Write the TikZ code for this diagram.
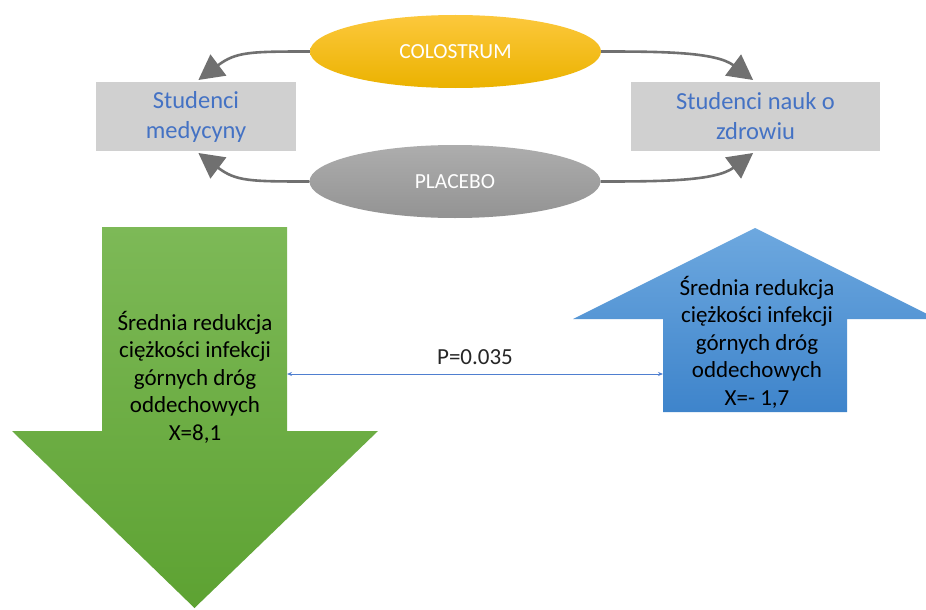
\documentclass[tikz,border=0pt]{standalone}
\usepackage{fontspec}
\setmainfont{Carlito}
\usetikzlibrary{arrows.meta,shapes.geometric}
\definecolor{boxgray}{HTML}{D0D0D0}
\definecolor{txtblue}{HTML}{4472C4}
\definecolor{colTop}{HTML}{FCC83C}
\definecolor{colBot}{HTML}{EBB200}
\definecolor{plaTop}{HTML}{ADADAD}
\definecolor{plaBot}{HTML}{939393}
\definecolor{grnTop}{HTML}{7DB957}
\definecolor{grnBot}{HTML}{5DA232}
\definecolor{bluTop}{HTML}{6DA8DF}
\definecolor{bluBot}{HTML}{3E84CB}
\definecolor{arcgray}{HTML}{707070}
\definecolor{plinecol}{HTML}{4F7FD0}
\begin{document}
\begin{tikzpicture}[x=1pt,y=-1pt,
  stud/.style={rectangle, fill=boxgray, text=txtblue, align=center, inner sep=0pt,
    font=\fontsize{24.5}{30}\selectfont},
  ell/.style={ellipse, inner sep=0pt, minimum width=291pt, minimum height=73pt,
    text=white, font=\fontsize{21.5}{25}\selectfont},
  curv/.style={draw=arcgray, line width=2.6pt, shorten >=3pt,
    -{Triangle[length=25pt,width=26pt]}},
  arrtext/.style={align=center, text=black, inner sep=0pt,
    font=\fontsize{23}{27.5}\selectfont},
  pline/.style={draw=plinecol, line width=0.9pt,
    {Stealth[length=5pt,width=4pt]}-{Stealth[length=5pt,width=4pt]}}
]
\clip (0,0) rectangle (926,610);
\fill[white] (0,0) rectangle (926,610);

% boxes
\node[stud, minimum width=200pt, minimum height=69pt] (lbox) at (196,116.5) {Studenci\\medycyny};
\node[stud, minimum width=249pt, minimum height=69pt] (rbox) at (755.5,116.5) {Studenci nauk o\\zdrowiu};

% ellipses
\node[ell, top color=colTop, bottom color=colBot] (col) at (455.5,51.5) {COLOSTRUM};
\node[ell, top color=plaTop, bottom color=plaBot] (pla) at (455,181.5) {PLACEBO};

% curved connectors
\draw[curv] (col.west) .. controls +(-60,0) and +(40,-30) .. (lbox.north);
\draw[curv] (pla.west) .. controls +(-60,0) and +(40,30) .. (lbox.south);
\draw[curv] (col.east) .. controls +(60,0) and +(-40,-30) .. (rbox.north);
\draw[curv] (pla.east) .. controls +(60,0) and +(-40,30) .. (rbox.south);

% green down arrow
\shade[top color=grnTop, bottom color=grnBot]
  (102,227) -- (287,227) -- (287,431) -- (378,431) -- (194.5,608)
  -- (12,431) -- (102,431) -- cycle;
% blue up arrow
\shade[top color=bluTop, bottom color=bluBot]
  (755,228) -- (937,319) -- (847,319) -- (847,412) -- (663,412)
  -- (663,319) -- (573,319) -- cycle;

\node[arrtext] (gtext) at (195,377) {Średnia redukcja\\ciężkości infekcji\\górnych dróg\\oddechowych\\X=8,1};
\node[arrtext] (btext) at (757,342) {Średnia redukcja\\ciężkości infekcji\\górnych dróg\\oddechowych\\X=- 1,7};

% P connector
\coordinate (gR) at (287,374);
\coordinate (bL) at (663,374);
\draw[pline] (gR) -- (bL);
\node[font=\fontsize{23}{27}\selectfont, text=black!85, inner sep=0pt] (plab) at (475,357) {P=0.035};
\end{tikzpicture}
\end{document}
